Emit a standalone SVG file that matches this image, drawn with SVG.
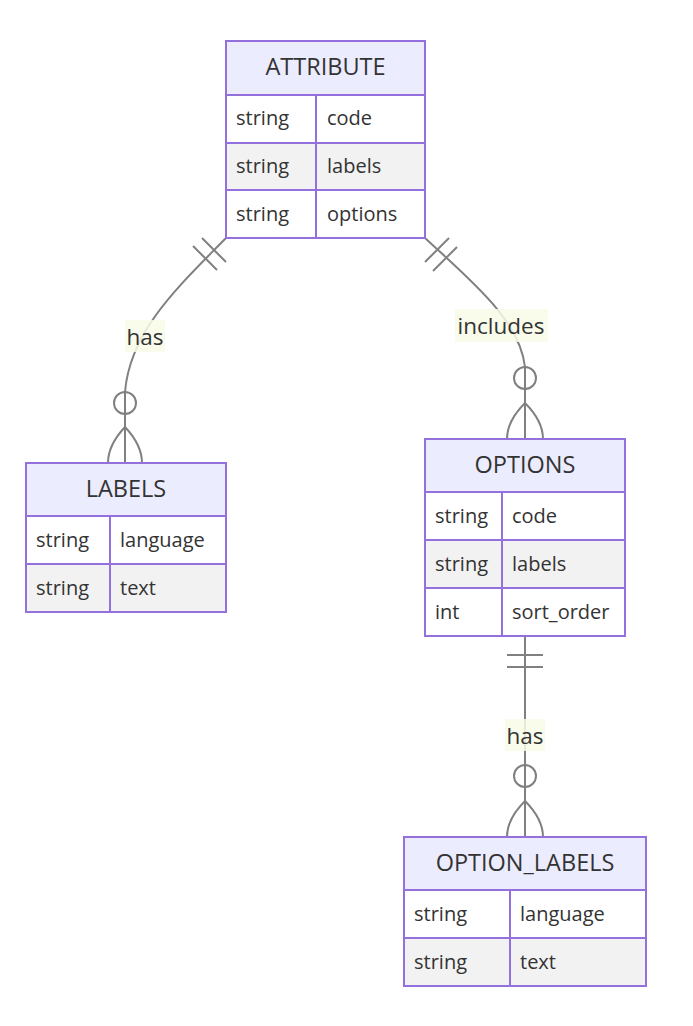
<svg xmlns="http://www.w3.org/2000/svg" width="693" height="1026" viewBox="0 0 693 1026">
<style>
.box{stroke:#9370db;stroke-width:2}
.hdr{fill:#ececff}
.odd{fill:#ffffff}
.even{fill:#f2f2f2}
.div{stroke:#9370db;stroke-width:2}
text{font-family:"Open Sans","Liberation Sans",sans-serif;fill:#333333}
.ht{font-size:23.5px;text-anchor:middle;dominant-baseline:central}
.rt{font-size:20px;dominant-baseline:central}
.conn{fill:none;stroke:#808080;stroke-width:2}
.lbg{fill:#f8fbe8;opacity:0.85}
.lt{font-size:22.5px;text-anchor:middle;dominant-baseline:central}
</style>
<rect width="693" height="1026" fill="#ffffff"/>
<g id="connectors">
<path class="conn" d="M226,238 C180,285 130,330 125,392 L125,463"/>
<line class="conn" x1="193" y1="246" x2="217" y2="270"/>
<line class="conn" x1="202" y1="238" x2="226" y2="262"/>
<circle class="conn" cx="125" cy="403" r="11" fill="#ffffff"/>
<path class="conn" d="M125,427 Q108,445 108,463 M125,427 Q142,445 142,463"/>
<path class="conn" d="M425,238 C470,280 520,320 525,367 L525,439"/>
<line class="conn" x1="425" y1="262" x2="449" y2="238"/>
<line class="conn" x1="433" y1="271" x2="457" y2="247"/>
<circle class="conn" cx="525" cy="378" r="11" fill="#ffffff"/>
<path class="conn" d="M525,403 Q507,421 507,439 M525,403 Q543,421 543,439"/>
<path class="conn" d="M525,636 L525,837"/>
<line class="conn" x1="507" y1="655" x2="543" y2="655"/>
<line class="conn" x1="507" y1="667" x2="543" y2="667"/>
<circle class="conn" cx="525" cy="776" r="11" fill="#ffffff"/>
<path class="conn" d="M525,801 Q507,819 507,837 M525,801 Q543,819 543,837"/>
<rect class="lbg" x="125" y="320" width="40" height="32"/>
<text class="lt" x="145" y="336">has</text>
<rect class="lbg" x="455" y="309" width="93" height="33"/>
<text class="lt" x="501" y="325">includes</text>
<rect class="lbg" x="505" y="719" width="40" height="32"/>
<text class="lt" x="525" y="735">has</text>
</g>
<g id="ATTRIBUTE">
<rect class="box hdr" x="226" y="41" width="199" height="54"/>
<rect class="box odd" x="226" y="95" width="199" height="48"/>
<rect class="box even" x="226" y="143" width="199" height="47"/>
<rect class="box odd" x="226" y="190" width="199" height="48"/>
<line class="div" x1="316" y1="95" x2="316" y2="238"/>
<text class="ht" x="325.5" y="66">ATTRIBUTE</text>
<text class="rt" x="236" y="117">string</text><text class="rt" x="327" y="117">code</text>
<text class="rt" x="236" y="165">string</text><text class="rt" x="327" y="165">labels</text>
<text class="rt" x="236" y="213">string</text><text class="rt" x="327" y="213">options</text>
</g>
<g id="LABELS">
<rect class="box hdr" x="26" y="463" width="200" height="53"/>
<rect class="box odd" x="26" y="516" width="200" height="48"/>
<rect class="box even" x="26" y="564" width="200" height="48"/>
<line class="div" x1="110" y1="516" x2="110" y2="612"/>
<text class="ht" x="126" y="488">LABELS</text>
<text class="rt" x="36" y="539">string</text><text class="rt" x="120" y="539">language</text>
<text class="rt" x="36" y="587">string</text><text class="rt" x="120" y="587">text</text>
</g>
<g id="OPTIONS">
<rect class="box hdr" x="425" y="439" width="200" height="53"/>
<rect class="box odd" x="425" y="492" width="200" height="48"/>
<rect class="box even" x="425" y="540" width="200" height="48"/>
<rect class="box odd" x="425" y="588" width="200" height="48"/>
<line class="div" x1="502" y1="492" x2="502" y2="636"/>
<text class="ht" x="525" y="464">OPTIONS</text>
<text class="rt" x="435" y="515">string</text><text class="rt" x="512" y="515">code</text>
<text class="rt" x="435" y="563">string</text><text class="rt" x="512" y="563">labels</text>
<text class="rt" x="435" y="611">int</text><text class="rt" x="512" y="611">sort_order</text>
</g>
<g id="OPTION_LABELS">
<rect class="box hdr" x="404" y="837" width="242" height="53"/>
<rect class="box odd" x="404" y="890" width="242" height="48"/>
<rect class="box even" x="404" y="938" width="242" height="48"/>
<line class="div" x1="510" y1="890" x2="510" y2="986"/>
<text class="ht" x="525" y="862">OPTION_LABELS</text>
<text class="rt" x="414" y="913">string</text><text class="rt" x="520" y="913">language</text>
<text class="rt" x="414" y="961">string</text><text class="rt" x="520" y="961">text</text>
</g>
</svg>
